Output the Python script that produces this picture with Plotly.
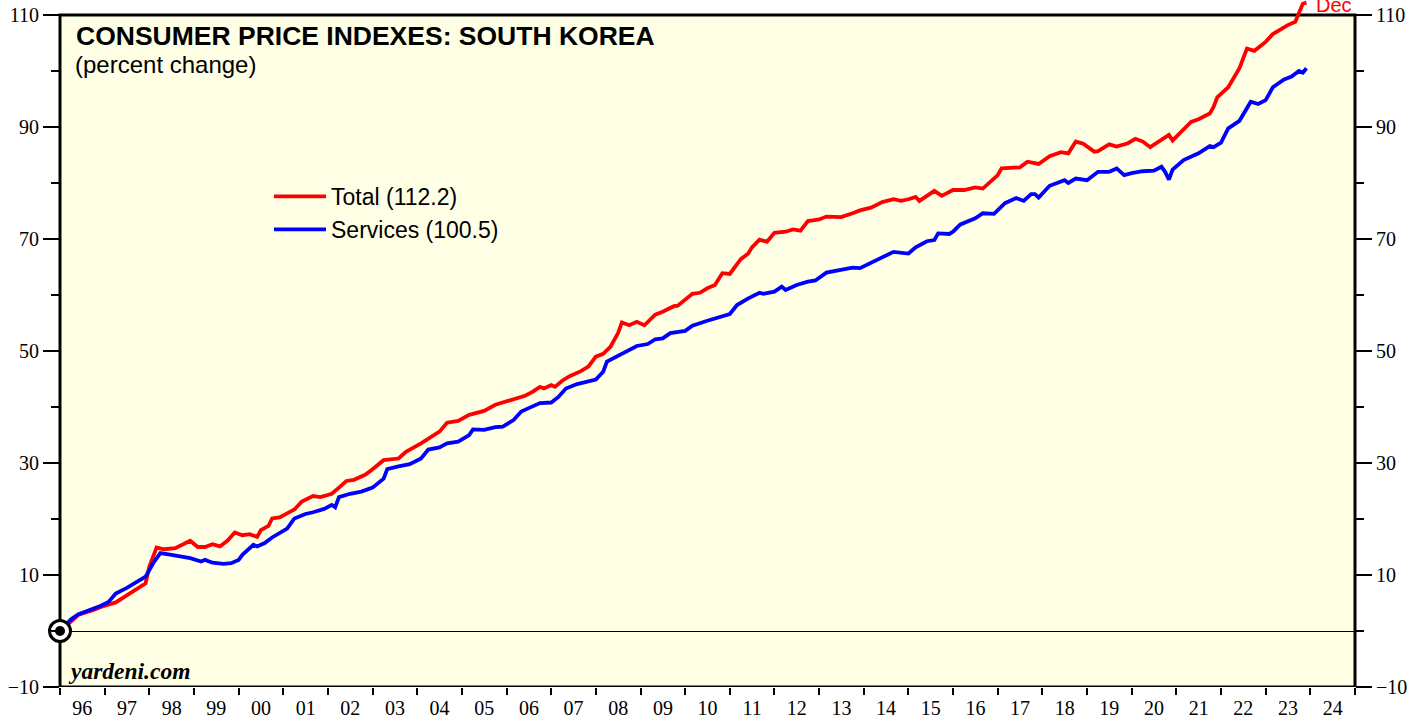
import plotly.graph_objects as go

# ---------------- data ----------------
total_dates = [
    "1996-01-01", "1996-04-01", "1996-06-01", "1996-10-01", "1996-12-01",
    "1997-04-01", "1997-07-01", "1997-10-01", "1997-12-01",
    "1998-01-01", "1998-03-01", "1998-05-01", "1998-08-01", "1998-12-01",
    "1999-02-01", "1999-04-01", "1999-06-01", "1999-08-01", "1999-10-01", "1999-12-01",
    "2000-02-01", "2000-04-01", "2000-06-01", "2000-07-01", "2000-09-01", "2000-10-01", "2000-12-01",
    "2001-02-01", "2001-04-01", "2001-06-01", "2001-09-01", "2001-11-01",
    "2002-02-01", "2002-04-01", "2002-06-01", "2002-08-01", "2002-10-01", "2002-11-01",
    "2003-01-01", "2003-04-01", "2003-08-01", "2003-10-01",
    "2004-02-01", "2004-05-01", "2004-07-01", "2004-09-01", "2004-12-01",
    "2005-03-01", "2005-07-01", "2005-10-01",
    "2006-02-01", "2006-06-01", "2006-08-01", "2006-10-01", "2006-11-01",
    "2007-01-01", "2007-02-01", "2007-04-01", "2007-06-01", "2007-09-01", "2007-11-01",
    "2008-01-01", "2008-03-01", "2008-05-01", "2008-07-01", "2008-08-01", "2008-10-01", "2008-12-01",
    "2009-02-01", "2009-05-01", "2009-07-01", "2009-10-01", "2009-11-01",
    "2010-03-01", "2010-05-01", "2010-07-01", "2010-09-01", "2010-11-01",
    "2011-01-01", "2011-04-01", "2011-06-01", "2011-07-01", "2011-09-01", "2011-11-01",
    "2012-01-01", "2012-04-01", "2012-06-01", "2012-08-01", "2012-10-01",
    "2013-01-01", "2013-03-01", "2013-07-01", "2013-10-01", "2013-12-01",
    "2014-03-01", "2014-06-01", "2014-09-01", "2014-11-01",
    "2015-01-01", "2015-03-01", "2015-04-01", "2015-06-01", "2015-08-01", "2015-10-01",
    "2016-01-01", "2016-04-01", "2016-07-01", "2016-09-01", "2016-12-01",
    "2017-01-01", "2017-02-01", "2017-05-01", "2017-07-01", "2017-09-01", "2017-12-01",
    "2018-03-01", "2018-06-01", "2018-08-01", "2018-10-01", "2018-12-01",
    "2019-03-01", "2019-04-01", "2019-07-01", "2019-09-01", "2019-12-01",
    "2020-02-01", "2020-04-01", "2020-06-01", "2020-08-01", "2020-11-01", "2020-12-01",
    "2021-02-01", "2021-05-01", "2021-07-01", "2021-10-01", "2021-11-01", "2021-12-01",
    "2022-03-01", "2022-06-01", "2022-08-01", "2022-10-01",
    "2023-01-01", "2023-03-01", "2023-05-01", "2023-07-01", "2023-09-01", "2023-10-01",
    "2023-11-01", "2023-12-01",
]
total_values = [
    0.0, 1.7, 2.9, 3.75, 4.3,
    5.1, 6.4, 7.6, 8.5,
    11.5, 14.9, 14.6, 14.8, 16.1,
    15.0, 15.0, 15.5, 15.1, 16.1, 17.6,
    17.1, 17.3, 16.8, 18.0, 18.75, 20.1, 20.3,
    21.0, 21.7, 23.1, 24.1, 23.9,
    24.5, 25.6, 26.8, 27.0, 27.6, 27.9,
    28.9, 30.5, 30.8, 32.0,
    33.5, 34.7, 35.6, 37.2, 37.5,
    38.6, 39.3, 40.4,
    41.25, 42.0, 42.7, 43.6, 43.3,
    43.9, 43.6, 44.7, 45.5, 46.4, 47.2,
    49.0, 49.5, 50.8, 53.2, 55.1, 54.6, 55.2,
    54.6, 56.5, 57.0, 58.0, 58.1,
    60.2, 60.4, 61.2, 61.8, 63.9,
    63.75, 66.4, 67.4, 68.5, 69.9, 69.5,
    71.1, 71.3, 71.7, 71.5, 73.2,
    73.5, 74.0, 73.9, 74.6, 75.1,
    75.6, 76.6, 77.1, 76.8,
    77.1, 77.5, 76.8, 77.7, 78.6, 77.7,
    78.75, 78.75, 79.2, 79.0, 80.8,
    81.4, 82.6, 82.8, 82.8, 83.8, 83.4,
    84.8, 85.5, 85.3, 87.4, 87.0,
    85.6, 85.7, 86.9, 86.5, 87.1,
    87.9, 87.4, 86.4, 87.2, 88.6, 87.6,
    89.0, 90.9, 91.4, 92.4, 93.6, 95.3,
    97.1, 100.5, 104.0, 103.6,
    105.2, 106.6, 107.4, 108.2, 108.8, 110.3,
    112.0, 112.2,
]

services_dates = [
    "1996-01-01", "1996-04-01", "1996-06-01", "1996-10-01", "1996-12-01",
    "1997-02-01", "1997-04-01", "1997-07-01", "1997-10-01", "1997-11-01", "1997-12-01",
    "1998-02-01", "1998-04-01", "1998-07-01", "1998-09-01", "1998-12-01",
    "1999-03-01", "1999-04-01", "1999-06-01", "1999-09-01", "1999-11-01",
    "2000-01-01", "2000-02-01", "2000-05-01", "2000-06-01", "2000-08-01", "2000-10-01", "2000-12-01",
    "2001-02-01", "2001-04-01", "2001-07-01", "2001-09-01", "2001-12-01",
    "2002-02-01", "2002-03-01", "2002-04-01", "2002-07-01", "2002-10-01",
    "2003-01-01", "2003-04-01", "2003-05-01", "2003-08-01", "2003-11-01",
    "2004-02-01", "2004-04-01", "2004-07-01", "2004-09-01", "2004-12-01",
    "2005-02-01", "2005-03-01", "2005-04-01", "2005-07-01", "2005-10-01", "2005-12-01",
    "2006-03-01", "2006-05-01", "2006-07-01", "2006-10-01",
    "2007-01-01", "2007-03-01", "2007-05-01", "2007-08-01",
    "2008-01-01", "2008-03-01", "2008-04-01", "2008-09-01", "2008-12-01",
    "2009-03-01", "2009-05-01", "2009-07-01", "2009-09-01",
    "2010-01-01", "2010-03-01", "2010-07-01", "2010-10-01",
    "2011-01-01", "2011-03-01", "2011-06-01", "2011-09-01", "2011-10-01",
    "2012-01-01", "2012-03-01", "2012-04-01", "2012-07-01", "2012-10-01", "2012-12-01",
    "2013-03-01", "2013-07-01", "2013-10-01", "2013-12-01",
    "2014-04-01", "2014-07-01", "2014-09-01",
    "2015-01-01", "2015-03-01", "2015-06-01", "2015-08-01", "2015-09-01", "2015-12-01",
    "2016-01-01", "2016-03-01", "2016-07-01", "2016-09-01", "2016-12-01",
    "2017-03-01", "2017-06-01", "2017-08-01", "2017-10-01", "2017-11-01", "2017-12-01",
    "2018-03-01", "2018-07-01", "2018-08-01", "2018-10-01",
    "2019-01-01", "2019-04-01", "2019-07-01", "2019-09-01", "2019-11-01",
    "2020-01-01", "2020-04-01", "2020-07-01", "2020-09-01", "2020-10-01", "2020-11-01", "2020-12-01",
    "2021-03-01", "2021-07-01", "2021-10-01", "2021-11-01",
    "2022-01-01", "2022-03-01", "2022-06-01", "2022-09-01", "2022-11-01",
    "2023-01-01", "2023-03-01", "2023-06-01", "2023-08-01", "2023-10-01", "2023-11-01",
    "2023-12-01",
]
services_values = [
    0.0, 2.1, 3.0, 4.0, 4.5,
    5.2, 6.7, 7.7, 8.8, 9.2, 9.7,
    12.1, 13.9, 13.6, 13.4, 13.0,
    12.4, 12.7, 12.2, 12.0, 12.1,
    12.7, 13.6, 15.4, 15.1, 15.7, 16.7, 17.4,
    18.3, 20.1, 20.9, 21.2, 21.8,
    22.5, 22.1, 23.9, 24.5, 24.9,
    25.6, 27.2, 28.9, 29.4, 29.8,
    30.8, 32.4, 32.8, 33.5, 33.8,
    34.7, 35.0, 36.0, 35.9, 36.4, 36.5,
    37.7, 39.2, 39.8, 40.7,
    40.8, 41.8, 43.3, 44.1,
    44.9, 46.3, 48.1, 49.9, 50.9,
    51.25, 52.1, 52.25, 53.2,
    53.6, 54.5, 55.4, 56.0,
    56.6, 58.2, 59.4, 60.4, 60.2,
    60.6, 61.5, 60.9, 61.8, 62.4, 62.6,
    64.0, 64.5, 64.9, 64.8,
    66.1, 67.0, 67.7,
    67.4, 68.5, 69.6, 69.8, 71.0, 70.9,
    71.3, 72.6, 73.7, 74.6, 74.5,
    76.4, 77.3, 76.8, 78.0, 78.0, 77.4,
    79.5, 80.5, 80.0, 80.8,
    80.5, 82.0, 82.0, 82.6, 81.4,
    81.75, 82.1, 82.2, 82.9, 82.0, 80.6, 82.4,
    84.1, 85.3, 86.6, 86.4,
    87.2, 89.75, 91.1, 94.5, 94.1,
    94.8, 97.1, 98.5, 99.0, 100.0, 99.7,
    100.5,
]

series_names = ["Total", "Services"]
series_colors = ["#FF0000", "#0000FF"]
y_tick_values = [-10, 10, 30, 50, 70, 90, 110]
y_minor_values = [0, 20, 40, 60, 80, 100]
x_range = ["1996-01-01", "2025-01-01"]
last_month_label = "Dec"

# ---------------- figure ----------------
W, H = 1426, 721
ML, MR, MT, MB = 60, 71, 0, 34
plot_w = W - ML - MR
plot_h = H - MT - MB
px_per_unit = (687 - 15) / 120.0
y_top = 110 + 15 / px_per_unit
y_range = [-10, y_top]

serif = "Liberation Serif, Times New Roman, serif"
sans = "Liberation Sans, Arial, sans-serif"

fig = go.Figure()

fig.add_trace(go.Scatter(
    x=total_dates, y=total_values, mode="lines",
    name=f"{series_names[0]} ({total_values[-1]:.1f})",
    line=dict(color=series_colors[0], width=3.8), hoverinfo="x+y",
))
fig.add_trace(go.Scatter(
    x=services_dates, y=services_values, mode="lines",
    name=f"{series_names[1]} ({services_values[-1]:.1f})",
    line=dict(color=series_colors[1], width=3.8), hoverinfo="x+y",
))
# base-point marker (bullseye at start)
fig.add_trace(go.Scatter(
    x=[total_dates[0]], y=[total_values[0]], mode="markers", showlegend=False,
    marker=dict(size=21, color="white", line=dict(color="black", width=3)),
    cliponaxis=False, hoverinfo="skip",
))
fig.add_trace(go.Scatter(
    x=[total_dates[0]], y=[total_values[0]], mode="markers", showlegend=False,
    marker=dict(size=10, color="black"), cliponaxis=False, hoverinfo="skip",
))
# invisible trace to activate the right-hand axis
fig.add_trace(go.Scatter(
    x=services_dates, y=services_values, mode="lines", yaxis="y2",
    showlegend=False, opacity=0, line=dict(width=0), hoverinfo="skip",
))

yaxis_common = dict(
    range=y_range, tickvals=y_tick_values, ticks="outside", ticklen=16,
    tickwidth=1.5, tickcolor="black", showgrid=False, showline=False,
    tickfont=dict(family=serif, size=20, color="black"),
    minor=dict(tickvals=y_minor_values, ticks="outside", ticklen=8,
               tickwidth=1.5, tickcolor="black", showgrid=False),
    fixedrange=True,
)

fig.update_layout(
    width=W, height=H,
    margin=dict(l=ML, r=MR, t=MT, b=MB, autoexpand=False),
    paper_bgcolor="white", plot_bgcolor="white",
    showlegend=True,
    legend=dict(
        x=(269 - ML) / plot_w, y=(687 - 175) / plot_h,
        xanchor="left", yanchor="top", bgcolor="rgba(0,0,0,0)",
        font=dict(family=sans, size=23, color="black"),
        itemwidth=52, tracegroupgap=0,
    ),
    xaxis=dict(
        type="date", range=x_range, dtick="M12", tick0="1996-01-01",
        tickformat="%y", ticklabelmode="period", ticks="outside", ticklen=7,
        tickwidth=2, tickcolor="black", showgrid=False, showline=False,
        zeroline=False, tickfont=dict(family=serif, size=20, color="black"),
        ticklabelstandoff=-4, fixedrange=True,
    ),
    yaxis=dict(**yaxis_common, zeroline=True, zerolinecolor="black", zerolinewidth=1),
    yaxis2=dict(**yaxis_common, overlaying="y", side="right", zeroline=False),
    shapes=[
        dict(type="rect", xref="paper", yref="y", x0=0, x1=1, y0=-10, y1=110,
             fillcolor="rgb(255,255,230)", line=dict(width=0), layer="below"),
        dict(type="rect", xref="paper", yref="y", x0=0, x1=1, y0=-10, y1=110,
             fillcolor="rgba(0,0,0,0)", line=dict(color="black", width=3), layer="below"),
    ],
    annotations=[
        dict(text="<b>CONSUMER PRICE INDEXES: SOUTH KOREA</b>", xref="paper", yref="paper",
             x=(74 - ML) / plot_w, y=(687 - 36) / plot_h, xanchor="left", yanchor="middle",
             showarrow=False, font=dict(family=sans, size=26.5, color="black")),
        dict(text="(percent change)", xref="paper", yref="paper",
             x=(73 - ML) / plot_w, y=(687 - 65) / plot_h, xanchor="left", yanchor="middle",
             showarrow=False, font=dict(family=sans, size=24, color="black")),
        dict(text="<b><i>yardeni.com</i></b>", xref="paper", yref="paper",
             x=(66 - ML) / plot_w, y=(687 - 671) / plot_h, xanchor="left", yanchor="middle",
             showarrow=False, font=dict(family=serif, size=23.5, color="black")),
        dict(text=last_month_label, x=total_dates[-1], y=total_values[-1], xref="x", yref="y",
             xanchor="left", yanchor="middle", xshift=8, yshift=-2, showarrow=False,
             font=dict(family=sans, size=20, color=series_colors[0])),
    ],
)

fig.write_html("out.html", config={"displayModeBar": False},
               post_script="document.body.style.margin='0';")
